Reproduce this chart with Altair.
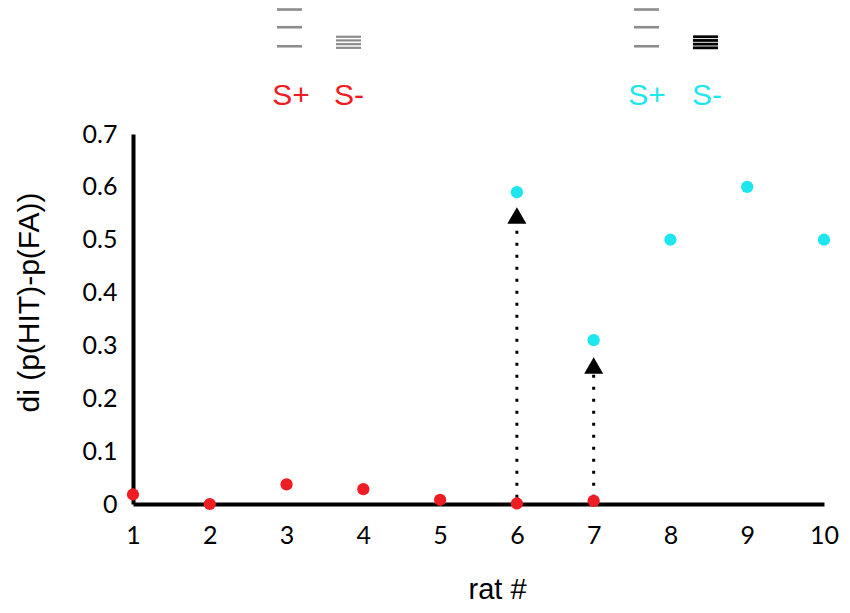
import altair as alt
import pandas as pd

# ---- data ----
red_rats = [1, 2, 3, 4, 5, 6, 7]
red_di = [0.018, 0.0, 0.037, 0.028, 0.008, 0.001, 0.006]

cyan_rats = [6, 7, 8, 9, 10]
cyan_di = [0.59, 0.31, 0.50, 0.60, 0.50]

arrow_rats = [6, 7]
arrow_from = [0.012, 0.012]
arrow_to = [0.529, 0.245]
arrow_head = [0.546, 0.262]

x_ticks = list(range(1, 11))
y_ticks = [0, 0.1, 0.2, 0.3, 0.4, 0.5, 0.6, 0.7]

# legend-like annotation above the plot (in data units)
label_text = ["S+", "S-", "S+", "S-"]
label_x = [3.058, 3.813, 7.694, 8.476]
label_color = ["#ee1c25", "#ee1c25", "#1ee6ee", "#1ee6ee"]
label_y = 0.755

icon_x1 = [2.875, 3.644, 7.525, 8.293]
icon_x2 = [3.201, 3.970, 7.851, 8.619]
icon_color = ["#8c8c8c", "#8c8c8c", "#8c8c8c", "#000000"]
icon_width = [2.6, 2.2, 2.6, 2.8]
icon_y_sparse = [0.9355, 0.902, 0.866]
icon_y_dense = [0.884, 0.877, 0.870, 0.863]

RED = "#ee1c25"
CYAN = "#1ee6ee"

red_df = pd.DataFrame({"rat": red_rats, "di": red_di})
cyan_df = pd.DataFrame({"rat": cyan_rats, "di": cyan_di})
arrow_df = pd.DataFrame({"rat": arrow_rats, "y0": arrow_from, "y1": arrow_to, "head": arrow_head})
label_df = pd.DataFrame({"t": label_text, "x": label_x, "c": label_color, "y": [label_y] * 4})

icon_rows = []
for i in range(4):
    ys = icon_y_sparse if i in (0, 2) else icon_y_dense
    for yv in ys:
        icon_rows.append({"x": icon_x1[i], "x2": icon_x2[i], "y": yv,
                          "c": icon_color[i], "w": icon_width[i]})
icon_df = pd.DataFrame(icon_rows)

xscale = alt.Scale(domain=[1, 10], nice=False, zero=False)
yscale = alt.Scale(domain=[0, 0.7], nice=False, zero=False)

x_axis = alt.Axis(
    title="rat #", values=x_ticks, format="d", grid=False, ticks=False, tickSize=0,
    domainColor="black", domainWidth=4, labelFont="Lato", labelFontSize=25,
    labelColor="black", labelPadding=39, labelBaseline="alphabetic", labelFlush=False,
    titleFont="Liberation Sans", titleFontSize=29, titleFontWeight="normal",
    titleColor="black", titleX=364, titleY=94, titleBaseline="alphabetic",
    titleAlign="center",
)
y_axis = alt.Axis(
    title="di (p(HIT)-p(FA))", values=y_ticks, grid=False, ticks=False, tickSize=0,
    domainColor="black", domainWidth=4, labelFont="Lato", labelFontSize=25,
    labelColor="black", labelPadding=16, labelExpr="format(datum.value, '.1~f')",
    labelFlush=False,
    titleFont="Liberation Sans", titleFontSize=30, titleFontWeight="normal",
    titleColor="black", titleX=-95, titleY=168, titleAngle=-90,
    titleBaseline="alphabetic", titleAlign="center",
)

axes_layer = alt.Chart(red_df).mark_point(opacity=0).encode(
    x=alt.X("rat:Q", scale=xscale, axis=x_axis),
    y=alt.Y("di:Q", scale=yscale, axis=y_axis),
)

arrows = alt.Chart(arrow_df).mark_rule(
    color="black", strokeWidth=3, strokeDash=[3, 9], strokeCap="butt"
).encode(
    x=alt.X("rat:Q", scale=xscale),
    y=alt.Y("y0:Q", scale=yscale),
    y2="y1:Q",
)
heads = alt.Chart(arrow_df).mark_point(
    shape="triangle-up", filled=True, color="black", size=361, opacity=1
).encode(
    x=alt.X("rat:Q", scale=xscale),
    y=alt.Y("head:Q", scale=yscale),
)

red_pts = alt.Chart(red_df).mark_circle(size=150, color=RED, opacity=1).encode(
    x=alt.X("rat:Q", scale=xscale),
    y=alt.Y("di:Q", scale=yscale),
)
cyan_pts = alt.Chart(cyan_df).mark_circle(size=150, color=CYAN, opacity=1).encode(
    x=alt.X("rat:Q", scale=xscale),
    y=alt.Y("di:Q", scale=yscale),
)

icons = alt.Chart(icon_df).mark_rule(strokeCap="butt").encode(
    x=alt.X("x:Q", scale=xscale),
    x2="x2:Q",
    y=alt.Y("y:Q", scale=yscale),
    color=alt.Color("c:N", scale=None),
    strokeWidth=alt.StrokeWidth("w:Q", scale=None),
)

labels = alt.Chart(label_df).mark_text(
    font="Liberation Sans", fontSize=30, baseline="alphabetic", align="center"
).encode(
    x=alt.X("x:Q", scale=xscale),
    y=alt.Y("y:Q", scale=yscale),
    text="t:N",
    color=alt.Color("c:N", scale=None),
)

chart = alt.layer(axes_layer, arrows, heads, red_pts, cyan_pts, icons, labels).properties(
    width=691,
    height=370,
    background="white",
    autosize=alt.AutoSizeParams(type="none"),
    padding={"left": 125, "top": 126, "right": 18, "bottom": 101},
).configure_view(stroke=None)

chart.save("out.html", embed_options={"renderer": "svg", "actions": False})
